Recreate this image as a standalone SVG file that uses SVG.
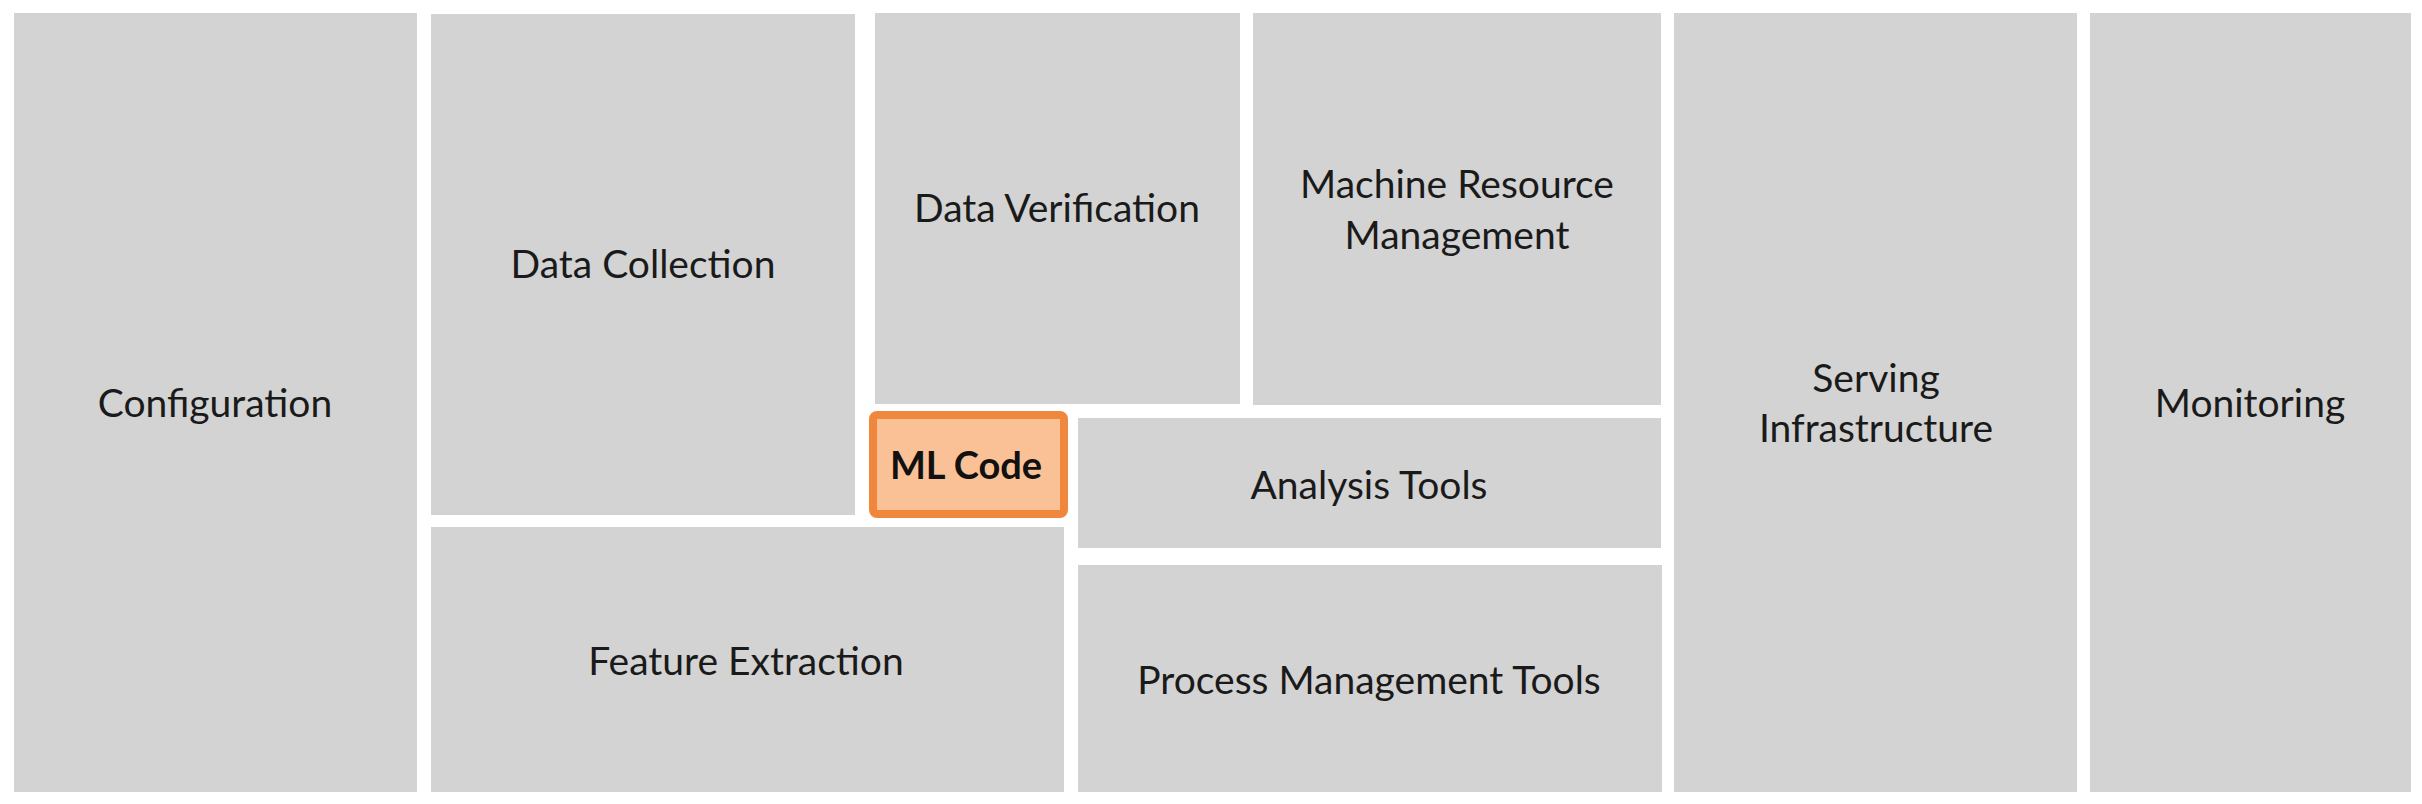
<svg xmlns="http://www.w3.org/2000/svg" width="2422" height="804" viewBox="0 0 2422 804">
<style>
.box{fill:#d3d3d3}
.lbl{font-family:Lato,"Open Sans","Liberation Sans",sans-serif;font-size:39px;fill:#1a1a1a;text-anchor:middle}
.ml{fill:#fbc196;stroke:#ef873d;stroke-width:8}
.mlt{font-family:Lato,"Open Sans","Liberation Sans",sans-serif;font-size:38px;font-weight:bold;fill:#111;text-anchor:middle}
</style>
<rect width="2422" height="804" fill="#ffffff"/>
<g id="connectors"></g>
<g id="configuration"><rect class="box" x="14" y="13" width="403" height="779"/><text class="lbl" x="215" y="417">Configuration</text></g>
<g id="data-collection"><rect class="box" x="431" y="14" width="424" height="501"/><text class="lbl" x="643" y="278">Data Collection</text></g>
<g id="feature-extraction"><rect class="box" x="431" y="527" width="633" height="265"/><text class="lbl" x="746" y="675">Feature Extraction</text></g>
<g id="data-verification"><rect class="box" x="875" y="13" width="365" height="391"/><text class="lbl" x="1057" y="222">Data Verification</text></g>
<g id="machine-resource-management"><rect class="box" x="1253" y="13" width="408" height="392"/><text class="lbl" x="1457" y="198">Machine Resource</text><text class="lbl" x="1457" y="249">Management</text></g>
<g id="ml-code"><rect class="ml" x="873" y="415" width="191" height="99" rx="4"/><text class="mlt" x="966" y="479">ML Code</text></g>
<g id="analysis-tools"><rect class="box" x="1078" y="418" width="583" height="130"/><text class="lbl" x="1369" y="499">Analysis Tools</text></g>
<g id="process-management-tools"><rect class="box" x="1078" y="565" width="584" height="227"/><text class="lbl" x="1369" y="694">Process Management Tools</text></g>
<g id="serving-infrastructure"><rect class="box" x="1674" y="13" width="403" height="779"/><text class="lbl" x="1876" y="392">Serving</text><text class="lbl" x="1876" y="442">Infrastructure</text></g>
<g id="monitoring"><rect class="box" x="2090" y="13" width="321" height="779"/><text class="lbl" x="2250" y="417">Monitoring</text></g>
</svg>
